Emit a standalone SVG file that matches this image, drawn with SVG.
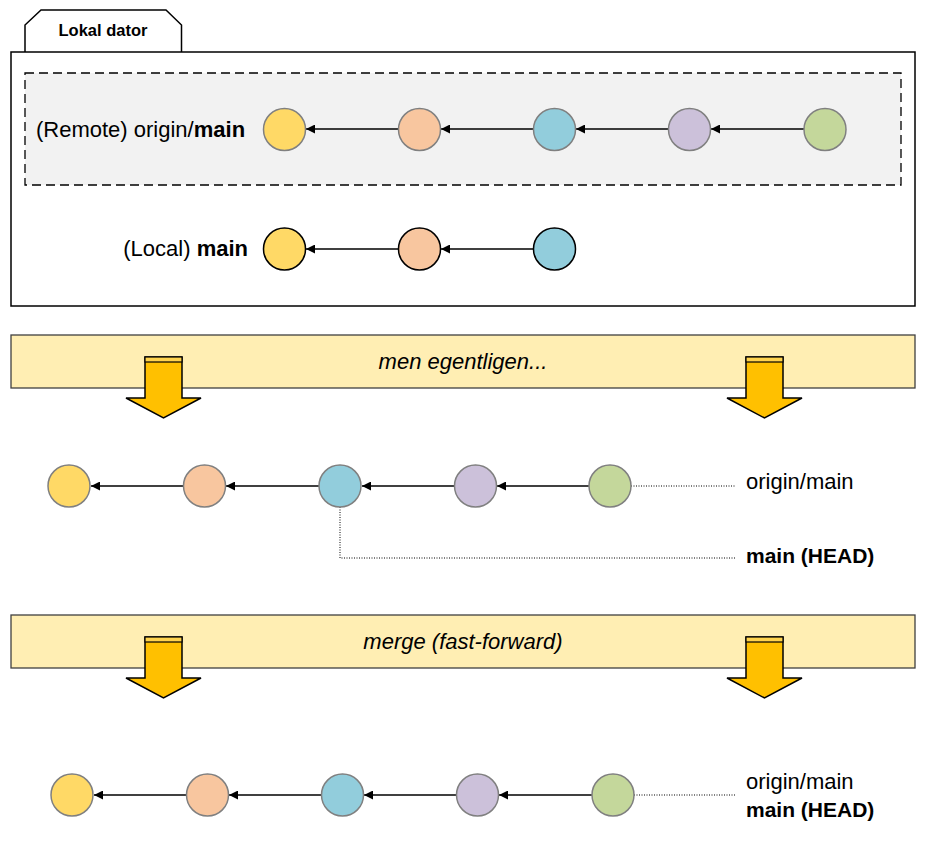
<svg xmlns="http://www.w3.org/2000/svg" width="926" height="846" viewBox="0 0 926 846">
<defs>
<style>
text{font-family:"Liberation Sans",Arial,sans-serif;fill:#000}
.lbl{font-size:22px}
.b{font-weight:bold}
.it{font-style:italic}
.c{stroke:#808080;stroke-width:1.5}
.ck{stroke:#000;stroke-width:1.5}
.y{fill:#ffd966}.o{fill:#f8c69f}.bl{fill:#92cddc}.p{fill:#ccc1da}.g{fill:#c4d79b}
.ln{stroke:#000;stroke-width:1.3;fill:none;marker-end:url(#ah)}
.dot{stroke:#000;stroke-width:1;stroke-dasharray:1 1.5;fill:none}
.banner{fill:#ffeeb3;stroke:#404040;stroke-width:1.3}
.barrow{fill:#ffc000;stroke:#000;stroke-width:1.5;stroke-linejoin:miter}
.bcap{fill:#ffd34d;stroke:#000;stroke-width:1.2}
</style>
<marker id="ah" viewBox="0 0 10 10" refX="10" refY="5" markerWidth="10" markerHeight="9" markerUnits="userSpaceOnUse" orient="auto">
<path d="M0,0 L10,5 L0,10 z" fill="#000"/>
</marker>
<g id="blockArrow">
<path class="barrow" d="M0,0 H37 V41 H56 L18.5,61 L-19,41 H0 Z"/>
<rect class="bcap" x="0" y="0" width="37" height="5"/>
</g>
</defs>

<g id="local-machine">
<path d="M25,52 V25 L41,10 H166 L181.5,25 V52" fill="#fff" stroke="#000" stroke-width="1.5"/>
<text x="103" y="36" text-anchor="middle" class="b" font-size="16.5">Lokal dator</text>
<rect x="11" y="52" width="904" height="254" fill="#fff" stroke="#000" stroke-width="1.5"/>
</g>

<g id="remote-box">
<rect x="25" y="73" width="876" height="112" fill="#f2f2f2" stroke="#000" stroke-width="1.3" stroke-dasharray="9 5"/>
<text x="36" y="137" class="lbl">(Remote) origin/<tspan class="b">main</tspan></text>
</g>

<g id="connectors">
<line class="ln" x1="398" y1="129" x2="306" y2="129"/>
<line class="ln" x1="533" y1="129" x2="441" y2="129"/>
<line class="ln" x1="668" y1="129" x2="576" y2="129"/>
<line class="ln" x1="804" y1="129" x2="711" y2="129"/>

<line class="ln" x1="398" y1="249" x2="306" y2="249"/>
<line class="ln" x1="533" y1="249" x2="441" y2="249"/>

<line class="ln" x1="183" y1="486" x2="91" y2="486"/>
<line class="ln" x1="319" y1="486" x2="226" y2="486"/>
<line class="ln" x1="454" y1="486" x2="362" y2="486"/>
<line class="ln" x1="589" y1="486" x2="497" y2="486"/>
<path class="dot" d="M631,486 H736"/>
<path class="dot" d="M340,507 V558 H736"/>

<line class="ln" x1="186" y1="795" x2="94" y2="795"/>
<line class="ln" x1="321" y1="795" x2="229" y2="795"/>
<line class="ln" x1="456" y1="795" x2="364" y2="795"/>
<line class="ln" x1="592" y1="795" x2="499" y2="795"/>
<path class="dot" d="M634,795 H736"/>
</g>

<g id="remote-commits">
<circle class="c y" cx="284.5" cy="129.5" r="21"/>
<circle class="c o" cx="419.5" cy="129.5" r="21"/>
<circle class="c bl" cx="554.5" cy="129.5" r="21"/>
<circle class="c p" cx="689.5" cy="129.5" r="21"/>
<circle class="c g" cx="825" cy="129.5" r="21"/>
</g>

<g id="local-commits">
<text x="248" y="256" text-anchor="end" class="lbl">(Local) <tspan class="b">main</tspan></text>
<circle class="ck y" cx="284.5" cy="249" r="21"/>
<circle class="ck o" cx="419.5" cy="249" r="21"/>
<circle class="ck bl" cx="554.5" cy="249" r="21"/>
</g>

<g id="banner-1">
<rect class="banner" x="11" y="335" width="904" height="53"/>
<text x="463" y="369" text-anchor="middle" class="lbl it">men egentligen...</text>
<use href="#blockArrow" x="145" y="357"/>
<use href="#blockArrow" x="746" y="357"/>
</g>

<g id="row-before">
<circle class="c y" cx="69" cy="486" r="21"/>
<circle class="c o" cx="204.5" cy="486" r="21"/>
<circle class="c bl" cx="340" cy="486" r="21"/>
<circle class="c p" cx="475.5" cy="486" r="21"/>
<circle class="c g" cx="610" cy="486" r="21"/>
<text x="746" y="489" class="lbl">origin/main</text>
<text x="746" y="563" font-size="21" class="b">main (HEAD)</text>
</g>

<g id="banner-2">
<rect class="banner" x="11" y="615" width="904" height="53"/>
<text x="463" y="649" text-anchor="middle" class="lbl it">merge (fast-forward)</text>
<use href="#blockArrow" x="145" y="637"/>
<use href="#blockArrow" x="746" y="637"/>
</g>

<g id="row-after">
<circle class="c y" cx="72" cy="795" r="21"/>
<circle class="c o" cx="207.5" cy="795" r="21"/>
<circle class="c bl" cx="342.5" cy="795" r="21"/>
<circle class="c p" cx="477.5" cy="795" r="21"/>
<circle class="c g" cx="613" cy="795" r="21"/>
<text x="746" y="789" class="lbl">origin/main</text>
<text x="746" y="817" font-size="21" class="b">main (HEAD)</text>
</g>
</svg>
